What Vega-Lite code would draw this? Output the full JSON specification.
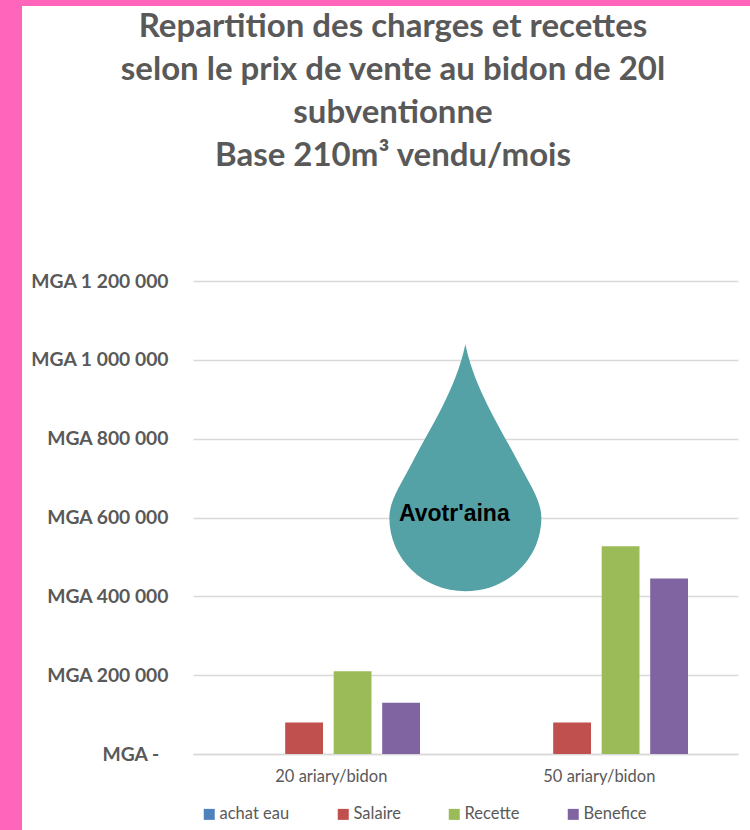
{
"$schema":"https://vega.github.io/schema/vega-lite/v6.json",
"width":728,"height":824,
"autosize":"none",
"padding":{"left":22,"top":6,"right":0,"bottom":0},
"background":"#FF66BB",
"view":{"fill":"#FFFFFF","stroke":null},
"title":{"text":["Repartition des charges et recettes","selon le prix de vente au bidon de 20l","subventionne","Base 210m³ vendu/mois"],"anchor":"middle","frame":"group","orient":"top","offset":-167,"dx":7,"baseline":"top","font":"Lato","fontSize":33,"fontWeight":"bold","color":"#595959","lineHeight":43},
"layer":[
{"data":{"values":[
{"cat":"20 ariary/bidon","serie":"achat eau","valeur":0},
{"cat":"20 ariary/bidon","serie":"Salaire","valeur":80000},
{"cat":"20 ariary/bidon","serie":"Recette","valeur":210000},
{"cat":"20 ariary/bidon","serie":"Benefice","valeur":130000},
{"cat":"50 ariary/bidon","serie":"achat eau","valeur":0},
{"cat":"50 ariary/bidon","serie":"Salaire","valeur":80000},
{"cat":"50 ariary/bidon","serie":"Recette","valeur":527000},
{"cat":"50 ariary/bidon","serie":"Benefice","valeur":445000}
]},
"mark":{"type":"bar"},
"encoding":{
"x":{"field":"cat","type":"nominal","title":null,"scale":{"range":[171,716],"paddingInner":0,"paddingOuter":0.0168,"align":0.15},
"axis":{"orient":"bottom","offset":-76,"labelAngle":0,"domain":true,"domainColor":"#D9D9D9","domainWidth":1.5,"ticks":false,"grid":false,"labelFont":"Lato","labelFontSize":16.5,"labelColor":"#595959","labelPadding":14,"labelOffset":3}},
"y":{"field":"valeur","type":"quantitative","title":null,"scale":{"domain":[0,1200000],"range":[748,275],"nice":false},
"axis":{"orient":"left","offset":-171,"values":[0,200000,400000,600000,800000,1000000,1200000],"domain":false,"ticks":false,"grid":true,"gridColor":"#D9D9D9","gridWidth":1.5,"labelFont":"Lato","labelFontSize":19.3,"labelFontWeight":"bold","labelColor":"#595959","labelPadding":25,
"labelExpr":"datum.value === 0 ? 'MGA -\u00a0\u00a0\u200b' : 'MGA ' + replace(format(datum.value, ','), /,/g, ' ')"}},
"xOffset":{"field":"serie","type":"nominal","sort":["achat eau","Salaire","Recette","Benefice"],"scale":{"paddingInner":0.22,"paddingOuter":0.873}},
"color":{"field":"serie","type":"nominal","title":null,
"scale":{"domain":["achat eau","Salaire","Recette","Benefice"],"range":["#4F81BD","#C0504D","#9BBB59","#8064A2"]},
"legend":{"orient":"none","legendX":179,"legendY":800,"direction":"horizontal","columns":4,"symbolType":"square","symbolSize":121,"symbolOpacity":1,"labelOffset":2,"labelFont":"Lato","labelFontSize":16.5,"labelColor":"#595959","columnPadding":45,"gridAlign":"each"}}
}},
{"data":{"values":[{"cat":"20 ariary/bidon","valeur":600000,"nom":"Avotr'aina"}]},
"mark":{"type":"point","filled":true,"opacity":1,"color":"#54A2A6","size":23104,"xOffset":3,"shape":"M0,-2.28 C0.12,-1.7 0.45,-1.2 0.7,-0.72 C0.85,-0.43 1,-0.22 1,0 C1,0.55 0.55,0.97 0,0.97 C-0.55,0.97 -1,0.55 -1,0 C-1,-0.22 -0.85,-0.43 -0.7,-0.72 C-0.45,-1.2 -0.12,-1.7 0,-2.28 Z"},
"encoding":{"x":{"field":"cat","type":"nominal","bandPosition":1},"y":{"field":"valeur","type":"quantitative"}}},
{"data":{"values":[{"cat":"20 ariary/bidon","valeur":600000,"nom":"Avotr'aina"}]},
"mark":{"type":"text","font":"Liberation Sans","fontWeight":"bold","fontSize":23,"color":"#000000","dx":-8,"dy":-4,"baseline":"middle"},
"encoding":{"x":{"field":"cat","type":"nominal","bandPosition":1},"y":{"field":"valeur","type":"quantitative"},"text":{"field":"nom"}}}
]}
